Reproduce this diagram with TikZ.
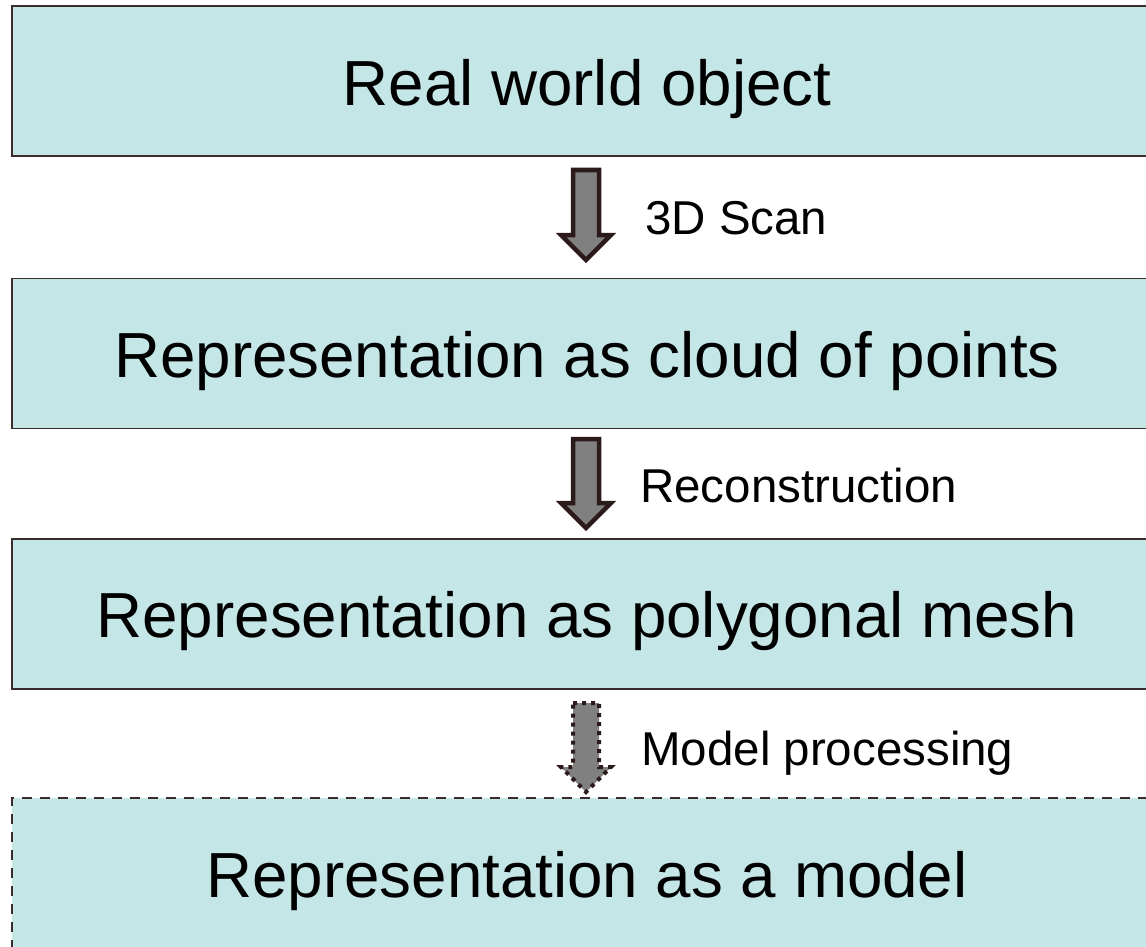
\documentclass[tikz,border=0pt]{standalone}
\usepackage{fontspec}
\setmainfont{Liberation Sans}
\definecolor{boxfill}{HTML}{C5E6E7}
\definecolor{boxline}{HTML}{3A2C2C}
\definecolor{arrline}{HTML}{2B1A1A}
\definecolor{arrfill}{HTML}{808080}
\begin{document}
\begin{tikzpicture}[x=1pt,y=-1pt,
  box/.style={draw=boxline, line width=1.5pt, fill=boxfill, anchor=north west,
    minimum width=1150pt, minimum height=150pt, inner sep=0pt, outer sep=0pt},
  boxtext/.style={anchor=base, inner sep=0pt, font=\fontsize{63.7}{70}\selectfont},
  lbl/.style={anchor=base west, inner sep=0pt, font=\fontsize{47.5}{52}\selectfont},
  blockarrow/.style={draw=arrline, line width=4.5pt, fill=arrfill, line join=miter}
]
\useasboundingbox (0,0) rectangle (1146,947);
\clip (0,0) rectangle (1146,947);
% boxes
\node[box] (b1) at (12,6) {};
\node[box] (b2) at (12,278.5) {};
\node[box] (b3) at (12,539) {};
\node[box, dash pattern=on 10pt off 8pt, line width=2.8pt] (b4) at (12,798) {};
% box texts
\node[boxtext] (t1) at (587,106) {Real world object};
\node[boxtext] (t2) at (587,377) {Representation as cloud of points};
\node[boxtext] (t3) at (587,637) {Representation as polygonal mesh};
\node[boxtext] (t4) at (587,897) {Representation as a model};
% arrows
\newcommand{\blockarr}[3]{%
  \draw[blockarrow,#3] (586-13,#1) -- (586+13,#1) -- (586+13,#2-25) -- (586+25,#2-25)
    -- (586,#2) -- (586-25,#2-25) -- (586-13,#2-25) -- cycle;}
\blockarr{170}{260}{}
\blockarr{439}{528}{}
\blockarr{703}{792}{line width=4pt, dash pattern=on 4pt off 5pt}
% labels
\node[lbl] (l1) at (645,234) {3D Scan};
\node[lbl] (l2) at (640,502) {Reconstruction};
\node[lbl] (l3) at (641,765) {Model processing};
\end{tikzpicture}
\end{document}
